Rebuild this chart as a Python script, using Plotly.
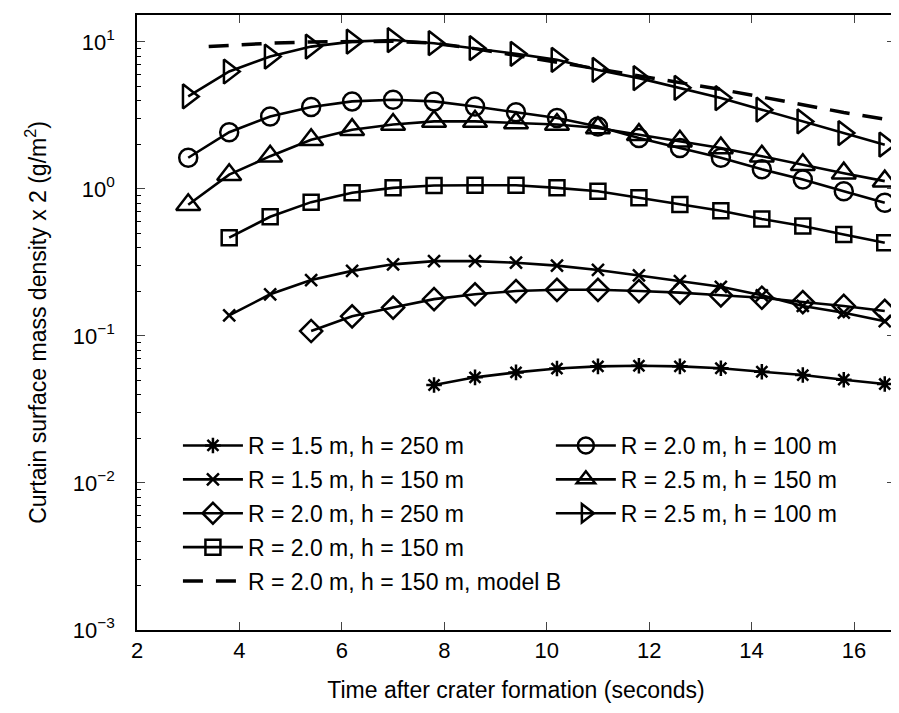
import plotly.graph_objects as go

# ---- data ----
t_all = [3.0, 3.8, 4.6, 5.4, 6.2, 7.0, 7.8, 8.6, 9.4, 10.2, 11.0, 11.8, 12.6, 13.4, 14.2, 15.0, 15.8, 16.6]
t_b = [3.4, 3.8, 4.6, 5.4, 6.2, 7.0, 7.8, 8.6, 9.4, 10.2, 11.0, 11.8, 12.6, 13.4, 14.2, 15.0, 15.8, 16.6]

r25_h100 = [4.26, 6.29, 7.95, 9.29, 10.05, 10.3, 9.8, 9.06, 8.3, 7.55, 6.45, 5.67, 4.87, 4.15, 3.46, 2.88, 2.40, 2.00]
r20_h100 = [1.63, 2.43, 3.11, 3.61, 3.94, 4.04, 3.94, 3.64, 3.32, 3.04, 2.66, 2.22, 1.90, 1.63, 1.36, 1.16, 0.964, 0.805]
r25_h150 = [0.78, 1.25, 1.67, 2.16, 2.53, 2.74, 2.88, 2.88, 2.81, 2.74, 2.60, 2.34, 2.11, 1.90, 1.67, 1.46, 1.28, 1.13]
r20_h150 = [0.466, 0.647, 0.813, 0.941, 1.017, 1.055, 1.06, 1.06, 1.017, 0.964, 0.87, 0.785, 0.71, 0.625, 0.56, 0.49, 0.43]
r15_h150 = [0.138, 0.192, 0.240, 0.277, 0.307, 0.323, 0.323, 0.315, 0.301, 0.281, 0.258, 0.236, 0.216, 0.189, 0.160, 0.144, 0.126]
r20_h250 = [0.108, 0.136, 0.156, 0.178, 0.192, 0.202, 0.206, 0.206, 0.202, 0.197, 0.189, 0.182, 0.170, 0.160, 0.148]
r15_h250 = [0.0464, 0.0523, 0.0565, 0.060, 0.0621, 0.0627, 0.0621, 0.0603, 0.0571, 0.0542, 0.0504, 0.0471, 0.0431]
r20_h150_b = [9.3, 9.5, 9.8, 10.0, 10.1, 10.1, 9.8, 9.0, 8.1, 7.3, 6.5, 5.85, 5.3, 4.75, 4.22, 3.74, 3.31, 2.98]

x_ticks = [2, 4, 6, 8, 10, 12, 14, 16]
y_tickvals = [0.001, 0.01, 0.1, 1, 10]
y_ticktext = ["10<sup>\u22123</sup>", "10<sup>\u22122</sup>", "10<sup>\u22121</sup>", "10<sup>0</sup>", "10<sup>1</sup>"]
y_minor = [m * d for d in y_tickvals for m in range(2, 10)]

FONT = "Liberation Sans, Arial, Helvetica, sans-serif"
LW = 2.6

fig = go.Figure()

def add(x, y, name, symbol, size, legend, rank, dash="solid", mode="lines+markers", lw=LW):
    fig.add_trace(go.Scatter(
        x=x, y=y, name=name, mode=mode, legend=legend, legendrank=rank,
        legendgroup=name,
        line=dict(color="black", width=lw, dash=dash),
        marker=dict(symbol=symbol, size=size, color="black",
                    line=dict(color="black", width=2.5)),
    ))

add(t_all[6:], r15_h250, "R = 1.5 m, h = 250 m", "asterisk-open", 13, "legend", 1)
add(t_all[1:], r15_h150, "R = 1.5 m, h = 150 m", "x-thin-open", 12, "legend", 2)
add(t_all[3:], r20_h250, "R = 2.0 m, h = 250 m", "diamond-open", 17, "legend", 3)
add(t_all[1:], r20_h150, "R = 2.0 m, h = 150 m", "square-open", 15, "legend", 4)
add(t_b, r20_h150_b, "R = 2.0 m, h = 150 m, model B", "circle", 1, "legend", 5,
    dash="20px,13px", mode="lines", lw=3.5)
add(t_all, r20_h100, "R = 2.0 m, h = 100 m", "circle-open", 18, "legend2", 1)
add(t_all, r25_h150, "R = 2.5 m, h = 150 m", "triangle-up-open", 21, "legend2", 2)
add(t_all, r25_h100, "R = 2.5 m, h = 100 m", "triangle-right-open", 21, "legend2", 3)

leg_common = dict(bgcolor="rgba(0,0,0,0)", borderwidth=0, itemwidth=60,
                  font=dict(family=FONT, size=23, color="black"),
                  yanchor="top", xanchor="left", traceorder="grouped", tracegroupgap=1)

fig.update_layout(
    width=899, height=713,
    margin=dict(l=129, r=12, t=5, b=91),
    paper_bgcolor="white", plot_bgcolor="white",
    font=dict(family=FONT, size=22, color="black"),
    showlegend=True,
    legend=dict(x=0.054, y=0.335, **leg_common),
    legend2=dict(x=0.546, y=0.335, **leg_common),
    xaxis=dict(
        range=[2, 16.8], tickvals=x_ticks, ticks="inside", ticklen=8,
        showline=True, linecolor="black", linewidth=1.5, mirror="allticks",
        showgrid=False, zeroline=False,
        tickfont=dict(size=22),
        title=dict(text="Time after crater formation (seconds)", font=dict(size=23), standoff=20),
    ),
    yaxis=dict(
        type="log", range=[-3, 1.183], tickvals=y_tickvals, ticktext=y_ticktext,
        ticks="inside", ticklen=8,
        showline=True, linecolor="black", linewidth=1.5, mirror="allticks",
        showgrid=False, zeroline=False,
        tickfont=dict(size=22), ticklabelstandoff=16,
        minor=dict(tickvals=y_minor, ticks="inside", ticklen=4.5, tickcolor="black", showgrid=False),
        title=dict(text="Curtain surface mass density x 2 (g/m<sup>2</sup>)", font=dict(size=23), standoff=20),
    ),
)

fig.write_html("out.html")
